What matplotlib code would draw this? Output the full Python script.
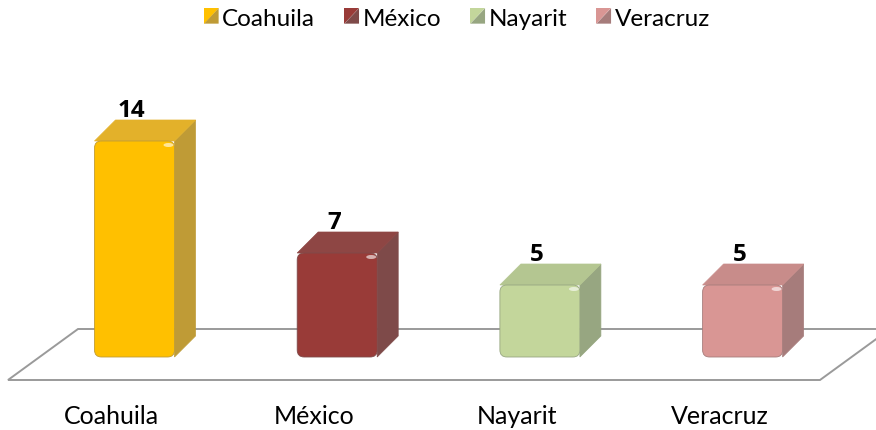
import matplotlib
matplotlib.use('Agg')
import matplotlib.pyplot as plt
from matplotlib.patches import Polygon, FancyBboxPatch, Patch, Ellipse
from matplotlib.legend_handler import HandlerBase

# datos
estados = ['Coahuila', 'México', 'Nayarit', 'Veracruz']
valores = [14, 7, 5, 5]

# colores: cara frontal, lateral y superior
frente = ['#FFC000', '#993B38', '#C3D69B', '#D99694']
lado = ['#BF9B36', '#7E4A49', '#97A681', '#A67C7B']
tapa = ['#E3B12A', '#8E4644', '#B4C691', '#C88C8A']

plt.rcParams['font.family'] = ['Lato', 'DejaVu Sans']


class Piramide(HandlerBase):
    # cuadro de leyenda con dos triangulos (claro / oscuro)
    def create_artists(self, legend, orig_handle, xdescent, ydescent,
                       width, height, fontsize, trans):
        x, y = -xdescent, -ydescent
        claro = Polygon([(x, y), (x, y + height), (x + width, y + height)],
                        closed=True, facecolor=orig_handle.get_facecolor(),
                        edgecolor='none', transform=trans)
        oscuro = Polygon([(x, y), (x + width, y + height), (x + width, y)],
                         closed=True, facecolor=orig_handle.get_edgecolor(),
                         edgecolor='none', transform=trans)
        return [claro, oscuro]


W, H = 876, 431
fig = plt.figure(figsize=(W / 100, H / 100), dpi=100)
ax = fig.add_axes([0, 0, 1, 1])

# escala de la "camara": pixeles por categoria y por unidad
px_x = 202.7
px_y = 16.0
x0 = 134.5
y0 = 366
ax.set_xlim(-x0 / px_x, (W - x0) / px_x)
ax.set_ylim((y0 - H) / px_y, y0 / px_y)
ax.axis('off')

base = 0.5
ancho = 80 / px_x
dx = 21 / px_x
dy = 21 / px_y

# piso
atras = (y0 - 330) / px_y
delante = (y0 - 381) / px_y
piso = Polygon([((78 - x0) / px_x, atras), ((8 - x0) / px_x, delante),
                ((820 - x0) / px_x, delante), ((890 - x0) / px_x, atras)],
               closed=True, facecolor='white', edgecolor='#9A9A9A', lw=1.4,
               zorder=1)
ax.add_patch(piso)

for i, v in enumerate(valores):
    xl = i - ancho / 2
    xr = i + ancho / 2
    cara_lado = Polygon([(xr, base), (xr + dx, base + dy), (xr + dx, v + dy), (xr, v)],
                        closed=True, facecolor=lado[i], edgecolor=lado[i], lw=0.5, zorder=2)
    cara_tapa = Polygon([(xl, v), (xl + dx, v + dy), (xr + dx, v + dy), (xr, v)],
                        closed=True, facecolor=tapa[i], edgecolor=tapa[i], lw=0.5, zorder=2)
    cara = FancyBboxPatch((xl, base), ancho, v - base,
                          boxstyle='round,pad=0,rounding_size=%f' % (7 / px_x),
                          mutation_aspect=px_x / px_y,
                          facecolor=frente[i], edgecolor=lado[i], lw=0.6, zorder=3)
    brillo = Ellipse((xr - 6 / px_x, v - 4 / px_y), 10 / px_x, 4 / px_y,
                     angle=0, facecolor='white', alpha=0.6, edgecolor='none', zorder=4)
    ax.add_patch(cara_lado)
    ax.add_patch(cara_tapa)
    ax.add_patch(cara)
    ax.add_patch(brillo)
    ax.text(i - 3 / px_x, v + 25 / px_y, str(v), ha='center', va='baseline',
            fontsize=17.5, fontweight='bold', family=['Open Sans', 'DejaVu Sans'],
            color='black', zorder=4)
    ax.text(i - 23 / px_x, (y0 - 424) / px_y, estados[i], ha='center', va='baseline',
            fontsize=18, color='black')

manejadores = [Patch(facecolor=frente[i], edgecolor=lado[i]) for i in range(len(estados))]
fig.legend(manejadores, estados, loc='center', bbox_to_anchor=(457 / W, 1 - 19 / H),
           ncol=4, frameon=False, fontsize=17.5, handlelength=0.6, handleheight=0.6,
           handletextpad=0.15, columnspacing=1.2,
           handler_map={Patch: Piramide()})

fig.savefig('out.png', dpi=100)
